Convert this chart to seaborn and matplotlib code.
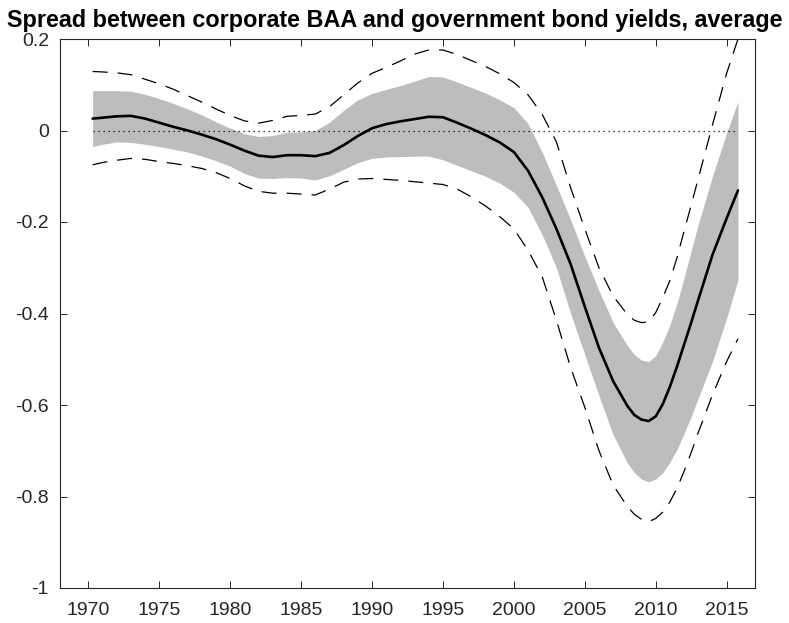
import matplotlib
matplotlib.use("Agg")
import matplotlib.pyplot as plt
import numpy as np
import pandas as pd
import seaborn as sns

# values
years = [1970.3, 1971, 1972, 1973, 1974, 1975, 1976, 1977, 1978, 1979,
         1980, 1981, 1982, 1983, 1984, 1985, 1986, 1987, 1988, 1989,
         1990, 1991, 1992, 1993, 1994, 1995, 1996, 1997, 1998, 1999,
         2000, 2001, 2002, 2003, 2004, 2005, 2006, 2007, 2008, 2008.5,
         2009, 2009.5, 2010, 2010.5, 2011, 2011.5, 2012, 2012.5, 2013, 2014,
         2015, 2015.8]

spread_mean = [0.026, 0.028, 0.031, 0.032, 0.026, 0.017, 0.008, 0.000, -0.009, -0.019,
               -0.031, -0.044, -0.055, -0.058, -0.054, -0.054, -0.056, -0.049, -0.032, -0.012,
               0.005, 0.014, 0.020, 0.025, 0.030, 0.029, 0.017, 0.004, -0.010, -0.026,
               -0.047, -0.088, -0.146, -0.215, -0.292, -0.385, -0.475, -0.548, -0.602, -0.622,
               -0.632, -0.635, -0.625, -0.598, -0.560, -0.516, -0.468, -0.420, -0.370, -0.272,
               -0.192, -0.131]

band_upper = [0.087, 0.087, 0.087, 0.086, 0.079, 0.070, 0.059, 0.047, 0.034, 0.019,
              0.005, -0.007, -0.013, -0.011, -0.004, -0.003, 0.000, 0.018, 0.044, 0.067,
              0.081, 0.090, 0.098, 0.108, 0.118, 0.117, 0.106, 0.094, 0.082, 0.067,
              0.050, 0.015, -0.048, -0.120, -0.195, -0.275, -0.350, -0.420, -0.470, -0.490,
              -0.502, -0.505, -0.492, -0.462, -0.425, -0.378, -0.322, -0.263, -0.205, -0.100,
              -0.005, 0.063]

band_lower = [-0.035, -0.030, -0.025, -0.026, -0.030, -0.035, -0.041, -0.047, -0.056, -0.066,
              -0.078, -0.094, -0.104, -0.105, -0.103, -0.104, -0.108, -0.099, -0.085, -0.070,
              -0.061, -0.058, -0.057, -0.056, -0.056, -0.064, -0.076, -0.088, -0.100, -0.115,
              -0.135, -0.168, -0.228, -0.300, -0.400, -0.490, -0.580, -0.665, -0.727, -0.748,
              -0.762, -0.768, -0.762, -0.748, -0.725, -0.697, -0.662, -0.625, -0.585, -0.505,
              -0.410, -0.327]

outer_upper = [0.129, 0.128, 0.126, 0.122, 0.112, 0.102, 0.090, 0.076, 0.062, 0.047,
               0.033, 0.021, 0.016, 0.022, 0.031, 0.033, 0.036, 0.052, 0.078, 0.104,
               0.125, 0.138, 0.152, 0.167, 0.176, 0.176, 0.166, 0.153, 0.140, 0.124,
               0.105, 0.078, 0.035, -0.025, -0.125, -0.215, -0.300, -0.362, -0.402, -0.415,
               -0.420, -0.418, -0.398, -0.365, -0.328, -0.278, -0.220, -0.163, -0.105, 0.012,
               0.125, 0.200]

outer_lower = [-0.075, -0.070, -0.065, -0.061, -0.063, -0.068, -0.072, -0.077, -0.083, -0.092,
               -0.105, -0.121, -0.133, -0.137, -0.137, -0.139, -0.141, -0.128, -0.113, -0.106,
               -0.105, -0.107, -0.109, -0.112, -0.115, -0.118, -0.128, -0.145, -0.165, -0.188,
               -0.215, -0.262, -0.320, -0.415, -0.518, -0.605, -0.700, -0.775, -0.822, -0.839,
               -0.850, -0.855, -0.848, -0.834, -0.812, -0.782, -0.745, -0.704, -0.660, -0.578,
               -0.505, -0.455]

x_ticks = [1970, 1975, 1980, 1985, 1990, 1995, 2000, 2005, 2010, 2015]
y_ticks = [-1, -0.8, -0.6, -0.4, -0.2, 0, 0.2]
y_tick_labels = ["-1", "-0.8", "-0.6", "-0.4", "-0.2", "0", "0.2"]

title = "Spread between corporate BAA and government bond yields, average"

sns.set_theme(style="white")
plt.rcParams["font.family"] = ["Liberation Sans", "DejaVu Sans"]
plt.rcParams["axes.unicode_minus"] = False

df = pd.DataFrame({
    "year": years,
    "mean": spread_mean,
    "lo": band_lower,
    "hi": band_upper,
    "lo2": outer_lower,
    "hi2": outer_upper,
})

fig = plt.figure(figsize=(7.89, 6.23), dpi=100)
ax = fig.add_axes([60 / 789, 1 - 588 / 623, 695 / 789, 549 / 623])

# shaded inner band, then zero line, outer dashed bounds and the mean
ax.fill_between(df["year"], df["lo"], df["hi"], color="#bdbdbd", linewidth=0)
sns.lineplot(x=df["year"], y=np.zeros(len(df)), ax=ax, color="black",
             linewidth=0.9, linestyle=(0, (1, 3)), sort=False, errorbar=None)
for col in ["hi2", "lo2"]:
    sns.lineplot(data=df, x="year", y=col, ax=ax, color="black", linewidth=0.9,
                 linestyle=(0, (12, 8)), sort=False, errorbar=None)
sns.lineplot(data=df, x="year", y="mean", ax=ax, color="black", linewidth=1.9,
             sort=False, errorbar=None)

ax.set_xlim(1968, 2017)
ax.set_ylim(-1, 0.2)
ax.set_xticks(x_ticks)
ax.set_xticklabels([str(y) for y in x_ticks])
ax.set_yticks(y_ticks)
ax.set_yticklabels(y_tick_labels)
ax.set_xlabel("")
ax.set_ylabel("")

ax.tick_params(axis="both", which="both", direction="in", length=5, width=0.7,
               color="#262626", labelsize=14, labelcolor="#262626",
               top=True, right=True, bottom=True, left=True)
ax.tick_params(axis="x", pad=10)
ax.tick_params(axis="y", pad=8)
for side in ax.spines.values():
    side.set_visible(True)
    side.set_color("#262626")
    side.set_linewidth(0.8)

fig.text(0.5, 1 - 27 / 623, title, ha="center", va="baseline",
         fontsize=16.8, fontweight="bold", color="black")

fig.savefig("out.png", dpi=100)
